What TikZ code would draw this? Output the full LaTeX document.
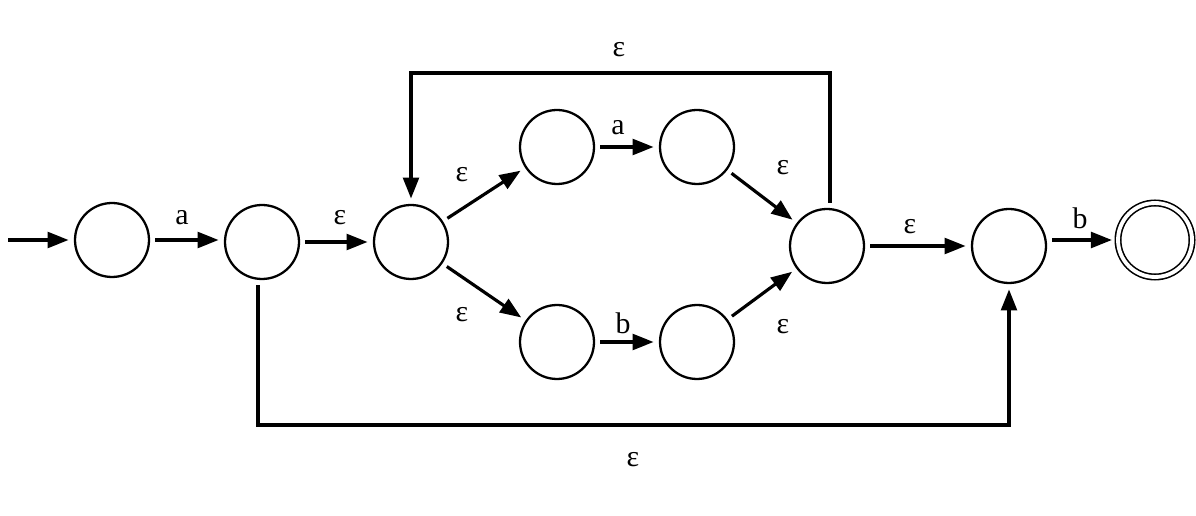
\documentclass[tikz,border=0pt]{standalone}
\usepackage{fontspec}
\setmainfont{Liberation Serif}
\usetikzlibrary{arrows.meta}
\begin{document}
\begin{tikzpicture}[x=0.02cm,y=-0.02cm,
  st/.style={circle,draw,line width=1.3pt,minimum size=1.48cm,inner sep=0pt},
  fin/.style={st,double,double distance=2.2pt,line width=0.9pt},
  tr/.style={line width=1.8pt,-{Triangle[length=12pt,width=9pt]},shorten >=3pt,shorten <=3pt},
  lb/.style={font=\fontsize{17}{20}\selectfont}]
\useasboundingbox (0,0) rectangle (1196,516);
\node[st] (n0) at (112,240) {};
\node[st] (n1) at (262,242) {};
\node[st] (n2) at (411,242) {};
\node[st] (n3) at (557,147) {};
\node[st] (n4) at (697,147) {};
\node[st] (n5) at (557,342) {};
\node[st] (n6) at (697,342) {};
\node[st] (n7) at (827,246) {};
\node[st] (n8) at (1009,246) {};
\node[fin] (n9) at (1155,240) {};
\coordinate (s) at (8,240);
\draw[tr,shorten <=0pt] (s) -- (n0);
\draw[tr] (n0.east) -- (n1.west|-n0.east);
\draw[tr] (n1) -- (n2);
\draw[tr] (n2) -- (n3);
\draw[tr] (n2) -- (n5);
\draw[tr] (n3) -- (n4);
\draw[tr] (n5) -- (n6);
\draw[tr] (n4) -- (n7);
\draw[tr] (n6) -- (n7);
\draw[tr] (n7.east|-n8) -- (n8);
\draw[tr] (n8.east|-n9) -- (n9);
\draw[tr] (n7.north-|830,0) -- (830,73) -- (411,73) -- (n2);
\draw[tr] (n1.south-|258,0) -- (258,425) -- (1009,425) -- (n8);
\node[lb] at (182,218) {a};
\node[lb] at (340,218) {ε};
\node[lb] at (462,175) {ε};
\node[lb] at (462,315) {ε};
\node[lb] at (618,128) {a};
\node[lb] at (623,323) {b};
\node[lb] at (783,168) {ε};
\node[lb] at (783,327) {ε};
\node[lb] at (910,227) {ε};
\node[lb] at (1080,218) {b};
\node[lb] at (619,50) {ε};
\node[lb] at (633,460) {ε};
\end{tikzpicture}
\end{document}
